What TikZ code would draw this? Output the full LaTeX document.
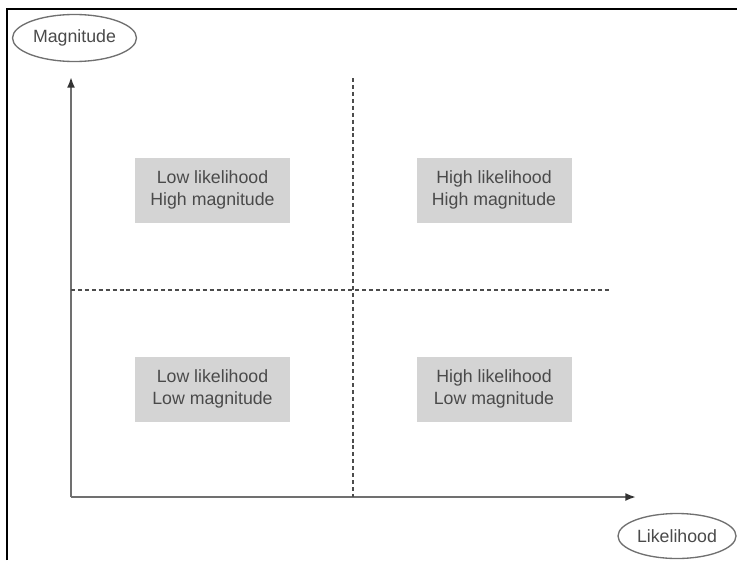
\documentclass[tikz,border=0pt]{standalone}
\usepackage{fontspec}
\setmainfont{Liberation Sans}
\usetikzlibrary{shapes.geometric,arrows.meta}
\definecolor{txtgray}{HTML}{4A4A4A}
\definecolor{boxgray}{HTML}{D4D4D4}
\definecolor{axisgray}{HTML}{707070}
\tikzset{
  quad/.style={fill=boxgray, minimum width=155*0.75pt, minimum height=65*0.75pt, align=center, text=txtgray, font=\fontsize{13.3}{16.5}\selectfont, inner sep=0pt},
  label ell/.style={ellipse, draw=axisgray, line width=1pt, text=txtgray, font=\fontsize{13.3}{16}\selectfont, inner sep=0pt},
  axis/.style={draw=axisgray, line width=1.5pt, -{Latex[length=8pt,width=6pt,color=black!80]}},
  divider/.style={draw=black!70, line width=0.8pt, dash pattern=on 3pt off 2.2pt},
  frame/.style={draw=black, line width=1.8pt}
}
\begin{document}
\begin{tikzpicture}[x=0.75pt,y=-0.75pt]
\useasboundingbox (0,0) rectangle (737,560);
\fill[white] (0,0) rectangle (737,560);
% frame
\coordinate (fbl) at (7,560);
\coordinate (ftl) at (7,9);
\coordinate (ftr) at (737,9);
\draw[frame] (fbl) -- (ftl) -- (ftr);
% axes
\coordinate (origin) at (71,497);
\coordinate (ytip) at (71,77);
\coordinate (xtip) at (636,497);
\draw[axis] (origin) -- (ytip);
\draw[axis] (origin) -- (xtip);
% dividers
\coordinate (vtop) at (353,78);
\coordinate (vbot) at (353,497);
\coordinate (hl) at (71,290);
\coordinate (hr) at (610,290);
\draw[divider] (vtop) -- (vbot);
\draw[divider] (hl) -- (hr);
% quadrant boxes
\node[quad] (q1) at (212.5,190) {Low likelihood\\High magnitude};
\node[quad] (q2) at (494,190) {High likelihood\\High magnitude};
\node[quad] (q3) at (212.5,389) {Low likelihood\\Low magnitude};
\node[quad] (q4) at (494,389) {High likelihood\\Low magnitude};
% axis labels
\node[label ell, minimum width=124*0.75pt, minimum height=47*0.75pt] (mag) at (74.5,38) {Magnitude};
\node[label ell, minimum width=118*0.75pt, minimum height=45*0.75pt] (lik) at (677,536) {Likelihood};
\end{tikzpicture}
\end{document}
